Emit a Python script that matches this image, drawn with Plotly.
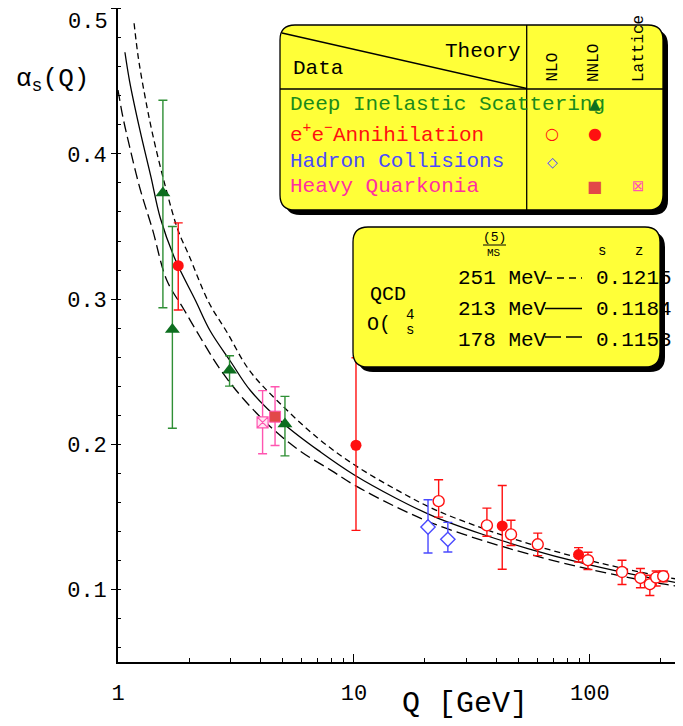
import plotly.graph_objects as go

# ---------------- data ----------------
# QCD running curves
q_upper = [1.17, 1.22, 1.3, 1.4, 1.585, 1.8, 2.0, 2.42, 2.9, 3.6, 4.73, 7.0, 10, 15, 22, 35, 55, 91.2, 140, 200, 250]
a_upper = [0.490, 0.466, 0.440, 0.414, 0.378, 0.347, 0.330, 0.298, 0.277, 0.251, 0.230, 0.2045, 0.186, 0.169, 0.155, 0.1422, 0.1316, 0.1215, 0.1143, 0.109, 0.1064]

q_mid = [1.07, 1.12, 1.24, 1.38, 1.51, 1.75, 2.13, 2.46, 3.0, 3.64, 5.05, 7.24, 10, 15, 22, 35, 55, 91.2, 140, 200, 250]
a_mid = [0.470, 0.450, 0.416, 0.384, 0.356, 0.327, 0.299, 0.278, 0.257, 0.237, 0.214, 0.1945, 0.179, 0.163, 0.150, 0.138, 0.128, 0.1184, 0.1115, 0.1065, 0.104]

q_lower = [1.0, 1.05, 1.12, 1.24, 1.4, 1.61, 1.9, 2.234, 2.7, 3.41, 4.5, 5.95, 8, 10, 15, 22, 35, 55, 91.2, 140, 200, 250]
a_lower = [0.444, 0.425, 0.405, 0.376, 0.348, 0.313, 0.293, 0.2735, 0.252, 0.2310, 0.211, 0.195, 0.182, 0.172, 0.157, 0.145, 0.1338, 0.1244, 0.1153, 0.1088, 0.104, 0.1016]

# Deep inelastic scattering (NNLO)
q_dis = [1.55, 1.70, 2.97, 5.10]
a_dis = [0.373, 0.279, 0.251, 0.214]
dis_plus = [0.064, 0.071, 0.010, 0.019]
dis_minus = [0.079, 0.068, 0.011, 0.022]

# e+e- annihilation NNLO
q_ee_nnlo = [1.80, 10.2, 42.5, 89.5]
a_ee_nnlo = [0.323, 0.1993, 0.1437, 0.124]
ee_nnlo_plus = [0.0295, 0.0603, 0.0279, 0.0048]
ee_nnlo_minus = [0.0305, 0.0586, 0.0298, 0.0051]

# e+e- annihilation NLO
q_ee_nlo = [22.85, 36.6, 46.3, 60.1, 98.1, 136.8, 163.7, 179.5, 190.9, 204.5]
a_ee_nlo = [0.1608, 0.1441, 0.1379, 0.1311, 0.1201, 0.1120, 0.1079, 0.1036, 0.1082, 0.1091]
ee_nlo_plus = [0.0147, 0.0119, 0.0097, 0.0077, 0.0055, 0.0081, 0.0065, 0.0062, 0.0045, 0.0034]
ee_nlo_minus = [0.0110, 0.0075, 0.0077, 0.0078, 0.0064, 0.0086, 0.0068, 0.0078, 0.0058, 0.0039]

# Hadron collisions NLO
q_had = [20.6, 25.0]
a_had = [0.143, 0.1345]
had_plus = [0.0188, 0.0117]
had_minus = [0.0179, 0.0087]

# Heavy quarkonia NNLO and lattice
q_hq = [4.63]
a_hq = [0.219]
hq_plus = [0.0206]
hq_minus = [0.0199]
q_lat = [4.10]
a_lat = [0.2151]
lat_plus = [0.0218]
lat_minus = [0.0217]

y_ticks = [0.1, 0.2, 0.3, 0.4, 0.5]
y_ticktext = ["0.1", "0.2", "0.3", "0.4", "0.5"]
x_ticks = [1, 10, 100]
x_ticktext = ["1", "10", "100"]
x_minor = [2, 3, 4, 5, 6, 7, 8, 9, 20, 30, 40, 50, 60, 70, 80, 90, 200]

lambda_text = ["251 MeV", "213 MeV", "178 MeV"]
asmz_text = ["0.1215", "0.1184", "0.1153"]

# ---------------- layout helpers ----------------
OFF = 8                      # page body margin of the browser
W, H = 683 - OFF, 726 - OFF
L, R, T, B = 118 - OFF, 0, 0, 64
PW, PH = W - L - R, H - T - B
MONO = "Liberation Mono, Courier New, monospace"
SYM = "DejaVu Sans"

GREEN = "#0d6e1f"
GREEN_EB = "#2f8f35"
RED = "#ff1010"
BLUE = "#4a4aff"
PINK = "#ff55b0"
SQ = "#e24848"


def px(x):
    return (x - OFF - L) / PW


def py(y):
    return (H - B - (y - OFF)) / PH


def rrect(x0, y0, x1, y1, r):
    pts = [
        ("M", [(x0 + r, y0)]),
        ("L", [(x1 - r, y0)]),
        ("Q", [(x1, y0), (x1, y0 + r)]),
        ("L", [(x1, y1 - r)]),
        ("Q", [(x1, y1), (x1 - r, y1)]),
        ("L", [(x0 + r, y1)]),
        ("Q", [(x0, y1), (x0, y1 - r)]),
        ("L", [(x0, y0 + r)]),
        ("Q", [(x0, y0), (x0 + r, y0)]),
    ]
    s = ""
    for cmd, ps in pts:
        s += cmd + " " + " ".join(f"{px(a):.5f},{py(b):.5f}" for a, b in ps) + " "
    return s + "Z"


fig = go.Figure()

# curves
fig.add_trace(go.Scatter(x=q_upper, y=a_upper, mode="lines", line=dict(color="black", width=1.3, dash="6px,4px", shape="spline"), hoverinfo="skip"))
fig.add_trace(go.Scatter(x=q_mid, y=a_mid, mode="lines", line=dict(color="black", width=1.3, shape="spline"), hoverinfo="skip"))
fig.add_trace(go.Scatter(x=q_lower, y=a_lower, mode="lines", line=dict(color="black", width=1.3, dash="11px,5px", shape="spline"), hoverinfo="skip"))


def pts(q, a, plus, minus, ebcolor, marker):
    fig.add_trace(go.Scatter(
        x=q, y=a, mode="markers", marker=marker,
        error_y=dict(type="data", symmetric=False, array=plus, arrayminus=minus,
                     color=ebcolor, thickness=1.4, width=4.5),
        hoverinfo="skip"))


pts(q_dis, a_dis, dis_plus, dis_minus, GREEN_EB, dict(symbol="triangle-up", size=13, color=GREEN, line=dict(width=0)))
pts(q_ee_nnlo, a_ee_nnlo, ee_nnlo_plus, ee_nnlo_minus, RED, dict(symbol="circle", size=11, color=RED, line=dict(width=0)))
pts(q_ee_nlo, a_ee_nlo, ee_nlo_plus, ee_nlo_minus, RED, dict(symbol="circle", size=11, color="white", line=dict(color=RED, width=1.4)))
pts(q_had, a_had, had_plus, had_minus, BLUE, dict(symbol="diamond", size=11, color="white", line=dict(color=BLUE, width=1.4)))
pts(q_lat, a_lat, lat_plus, lat_minus, PINK, dict(symbol="square-x", size=11, color="#ffe6f3", line=dict(color=PINK, width=1.2)))
pts(q_hq, a_hq, hq_plus, hq_minus, PINK, dict(symbol="square", size=11, color=SQ, line=dict(color=PINK, width=1)))

shapes = []
annotations = []


def ann(text, x, y, size=21, color="black", xa="left", ya="middle", angle=0, family=MONO):
    annotations.append(dict(text=text, x=px(x), y=py(y), xref="paper", yref="paper",
                            xanchor=xa, yanchor=ya, textangle=angle, showarrow=False,
                            font=dict(family=family, size=size, color=color)))


def line(x0, y0, x1, y1, width=1.3, dash="solid"):
    shapes.append(dict(type="line", xref="paper", yref="paper", x0=px(x0), y0=py(y0), x1=px(x1), y1=py(y1),
                       line=dict(color="black", width=width, dash=dash), layer="above"))


# ---- box 1: data/theory table ----
shapes.append(dict(type="path", path=rrect(285, 30, 668, 215, 15), xref="paper", yref="paper",
                   fillcolor="black", line=dict(width=0), layer="above"))
shapes.append(dict(type="path", path=rrect(280, 25, 663, 210, 15), xref="paper", yref="paper",
                   fillcolor="#ffff38", line=dict(color="black", width=1.3), layer="above"))
line(280, 89, 663, 89)
line(526.7, 25, 526.7, 210)
line(282, 33, 526.7, 88.5)

ann("Theory", 523, 51, xa="right")
ann("Data", 291, 68)
ann("NLO", 552, 84, size=16, xa="center", ya="bottom", angle=-90)
ann("NNLO", 594, 84, size=16, xa="center", ya="bottom", angle=-90)
ann("Lattice", 638.5, 84, size=16, xa="center", ya="bottom", angle=-90)

ann("Deep Inelastic Scattering", 288, 104, color="#1a8a1a")
ann("e<sup>+</sup>e<sup>−</sup>Annihilation", 288, 133, color=RED)
ann("Hadron Collisions", 288, 161.5, color=BLUE)
ann("Heavy Quarkonia", 288, 186.5, color="#ff2fa0")

ann("▲", 594.5, 104, size=15, color=GREEN, xa="center", family=SYM)
ann("○", 552, 133.5, size=16, color=RED, xa="center", family=SYM)
ann("●", 594.5, 133.5, size=16, color=RED, xa="center", family=SYM)
ann("◇", 552, 161.5, size=14, color=BLUE, xa="center", family=SYM)
ann("■", 594.5, 186.5, size=16, color=SQ, xa="center", family=SYM)
ann("⊠", 638.5, 186.5, size=15, color=PINK, xa="center", family=SYM)

# ---- box 2: QCD lines ----
shapes.append(dict(type="path", path=rrect(358, 232, 665, 372, 15), xref="paper", yref="paper",
                   fillcolor="black", line=dict(width=0), layer="above"))
shapes.append(dict(type="path", path=rrect(353, 227, 660, 367, 15), xref="paper", yref="paper",
                   fillcolor="#ffff38", line=dict(color="black", width=1.3), layer="above"))

ann("(5)", 494, 237.5, size=13, xa="center")
line(483, 245, 506, 245, width=1)
ann("MS", 494, 252.5, size=11, xa="center")
ann("s", 601.5, 251, size=14, xa="center")
ann("z", 638.5, 251, size=14, xa="center")

ann("QCD", 388, 294, size=20, xa="center")
ann("O(", 365, 324.5, size=20)
ann("4", 410, 315, size=14, xa="center")
ann("s", 410, 330, size=14, xa="center")

row_y = [278.5, 309.5, 340]
for i in range(3):
    ann(lambda_text[i], 456, row_y[i], size=21)
    ann(asmz_text[i], 594, row_y[i], size=21)
line(545, 278, 582, 278, dash="7px,5px")
line(545, 308.5, 582, 308.5)
line(545, 337, 582, 337, dash="16px,5px")

# axis titles
ann("α<sub>s</sub>(Q)", 14, 80, size=26)
ann("Q [GeV]", 465, 704, size=30, xa="center")
# top tick label, kept inside the page as in the original
ann(y_ticktext[-1], 110, 8, size=22, xa="right", ya="top")
y_ticktext_axis = y_ticktext[:-1] + [""]

fig.update_layout(
    width=W, height=H,
    margin=dict(l=L, r=R, t=T, b=B, pad=0, autoexpand=False),
    paper_bgcolor="white", plot_bgcolor="white",
    showlegend=False,
    shapes=shapes, annotations=annotations,
    xaxis=dict(type="log", range=[0, 2.3945], tickvals=x_ticks, ticktext=x_ticktext,
               ticks="inside", ticklen=8, tickwidth=1.2, tickcolor="black",
               showline=True, linecolor="black", linewidth=1.6, mirror=True,
               showgrid=False, zeroline=False, ticklabelstandoff=10, automargin=False,
               tickfont=dict(family=MONO, size=22, color="black"),
               minor=dict(tickvals=x_minor, ticks="inside", ticklen=4, tickcolor="black", tickwidth=1)),
    yaxis=dict(range=[0.05, 0.5005], tickvals=y_ticks, ticktext=y_ticktext_axis,
               ticks="outside", ticklen=5, tickwidth=1.2, tickcolor="black",
               showline=True, linecolor="black", linewidth=1.6,
               showgrid=False, zeroline=False, automargin=False,
               tickfont=dict(family=MONO, size=22, color="black"),
               minor=dict(dtick=0.02, ticks="inside", ticklen=3, tickcolor="black", tickwidth=1)),
    yaxis2=dict(overlaying="y", side="right", range=[0.05, 0.5005], tickvals=y_ticks,
                ticks="inside", ticklen=6, tickcolor="black", showticklabels=False, automargin=False,
                showline=False, showgrid=False, zeroline=False),
)

fig.write_html("out.html")
